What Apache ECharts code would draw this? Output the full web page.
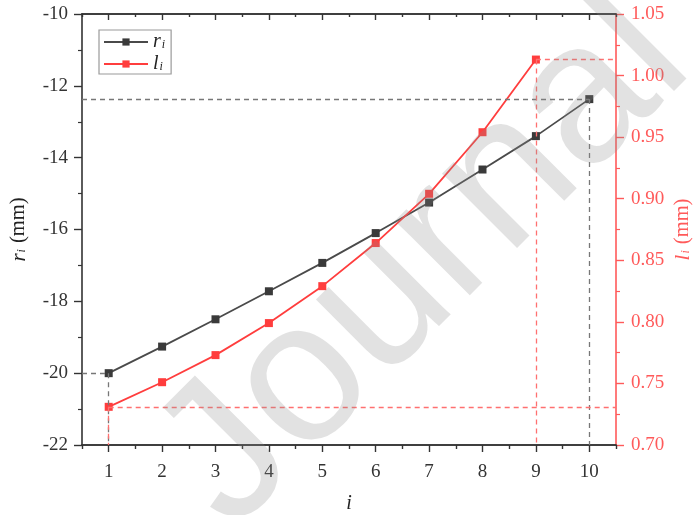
<!DOCTYPE html>
<html><head><meta charset="utf-8">
<script src="https://cdn.jsdelivr.net/npm/echarts@6/dist/echarts.min.js"></script>
<style>html,body{margin:0;padding:0;background:#fff}#c{width:694px;height:515px}</style>
</head><body><div id="c"></div>
<script>
// ---- data ----
const iVals = [1, 2, 3, 4, 5, 6, 7, 8, 9, 10];
const rVals = [-20.00, -19.26, -18.50, -17.72, -16.93, -16.10, -15.25, -14.33, -13.40, -12.37];
const lIdx  = [1, 2, 3, 4, 5, 6, 7, 8, 9];
const lVals = [0.731, 0.751, 0.773, 0.799, 0.829, 0.864, 0.904, 0.954, 1.013];
const xMajorTicks = [1, 2, 3, 4, 5, 6, 7, 8, 9, 10];
const xMinorTicks = [0.5, 1.5, 2.5, 3.5, 4.5, 5.5, 6.5, 7.5, 8.5, 9.5, 10.5];
const xRange = [0.5, 10.5];
const rRange = [-22, -10, 2];
const lRange = [0.70, 1.05, 0.05];

const SERIF = '"Liberation Serif", "Times New Roman", serif';
const BLK = '#3a3a3a';
const RED = '#ff3d3d';
const REDAX = '#ff5a5a';

const richName = (color, lh, big) => ({
  it: {fontFamily: SERIF, fontStyle: 'italic', fontSize: big ? 21 : 20, color: color, lineHeight: lh},
  sub: {fontFamily: SERIF, fontStyle: 'italic', fontSize: 12, color: color, verticalAlign: 'bottom', lineHeight: lh, padding: [0, 1, 0, 1]},
  n: {fontFamily: SERIF, fontSize: big ? 20.5 : 19, color: color, lineHeight: lh}
});

const chart = echarts.init(document.getElementById('c'), null, {renderer: 'canvas'});

const baseX = (pos, major, inside, len, showLabel, color) => ({
  type: 'value', position: pos, min: xRange[0], max: xRange[1],
  axisLine: {show: true, onZero: false, lineStyle: {color: color, width: 1.6}},
  axisTick: {show: true, inside: inside, length: len, customValues: major ? xMajorTicks : xMinorTicks,
             lineStyle: {color: color, width: 1.4}},
  axisLabel: {show: showLabel, customValues: xMajorTicks, margin: 18, fontFamily: SERIF, fontSize: 19, color: '#333'},
  splitLine: {show: false}
});

const xAxes = [
  Object.assign(baseX('bottom', true, false, 7, true, '#333'), {
    name: '{it|i}', nameLocation: 'middle', nameGap: 50,
    nameTextStyle: {rich: richName('#222', 18, false)}
  }),
  baseX('bottom', false, false, 4, false, '#333'),
  baseX('top', true, true, 6, false, '#333'),
  baseX('top', false, true, 3, false, '#333')
];

const option = {
  animation: false,
  backgroundColor: '#fff',
  grid: {left: 82, right: 78, top: 14, bottom: 70, containLabel: false, outerBoundsMode: 'none'},
  xAxis: xAxes,
  yAxis: [
    {
      type: 'value', position: 'left', min: rRange[0], max: rRange[1], interval: rRange[2],
      name: '{it|r}{sub|i}{n| (mm)}', nameLocation: 'middle', nameGap: 54, nameRotate: 90,
      nameMoveOverlap: false,
      nameTextStyle: {rich: richName('#222', 18, true)},
      axisLine: {show: true, lineStyle: {color: '#333', width: 1.6}},
      axisTick: {show: true, inside: false, length: 8, lineStyle: {color: '#333', width: 1.4}},
      minorTick: {show: true, splitNumber: 2, length: 4, lineStyle: {color: '#333', width: 1.2}},
      axisLabel: {margin: 14, fontFamily: SERIF, fontSize: 19, color: '#333'},
      splitLine: {show: false}
    },
    {
      type: 'value', position: 'right', min: lRange[0], max: lRange[1], interval: lRange[2],
      name: '{it|l}{sub|i}{n| (mm)}', nameLocation: 'middle', nameGap: 58, nameRotate: 90,
      nameMoveOverlap: false,
      nameTextStyle: {rich: richName(REDAX, 18, true)},
      axisLine: {show: true, lineStyle: {color: REDAX, width: 1.6}},
      axisTick: {show: true, inside: false, length: 8, lineStyle: {color: REDAX, width: 1.4}},
      minorTick: {show: true, splitNumber: 2, length: 4, lineStyle: {color: REDAX, width: 1.2}},
      axisLabel: {margin: 15, fontFamily: SERIF, fontSize: 19, color: REDAX, formatter: v => v.toFixed(2)},
      splitLine: {show: false}
    }
  ],
  legend: {
    left: 99, top: 30, orient: 'vertical',
    itemWidth: 44, itemHeight: 9, itemGap: 2,
    padding: [2, 5, 0, 4],
    borderColor: '#9a9a9a', borderWidth: 1.2, borderRadius: 0,
    backgroundColor: '#fff',
    data: [{name: 'r', itemStyle: {color: BLK}}, {name: 'l', itemStyle: {color: RED}}],
    formatter: name => `{it|${name}}{sub|i}`,
    textStyle: {rich: richName('#222', 17, false)}
  },
  series: [
    {
      name: 'r', type: 'line', xAxisIndex: 0, yAxisIndex: 0,
      data: iVals.map((x, k) => [x, rVals[k]]),
      symbol: 'rect', symbolSize: 8,
      lineStyle: {color: '#4a4a4a', width: 1.8},
      itemStyle: {color: BLK},
      z: 3,
      markLine: {
        silent: true, symbol: ['none', 'none'], label: {show: false},
        lineStyle: {color: '#777', type: [5, 4], width: 1.3},
        data: [
          [{coord: [xRange[0], rVals[9]]}, {coord: [iVals[9], rVals[9]]}],
          [{coord: [iVals[9], rVals[9]]}, {coord: [iVals[9], rRange[0]]}],
          [{coord: [xRange[0], rVals[0]]}, {coord: [iVals[0], rVals[0]]}],
          [{coord: [iVals[0], rVals[0]]}, {coord: [iVals[0], rRange[0]]}]
        ]
      }
    },
    {
      name: 'l', type: 'line', xAxisIndex: 0, yAxisIndex: 1,
      data: lIdx.map((x, k) => [x, lVals[k]]),
      symbol: 'rect', symbolSize: 8,
      lineStyle: {color: RED, width: 1.8},
      itemStyle: {color: RED},
      z: 4,
      markLine: {
        silent: true, symbol: ['none', 'none'], label: {show: false},
        lineStyle: {color: '#ff7070', type: [5, 4], width: 1.3},
        data: [
          [{coord: [lIdx[0], lVals[0]]}, {coord: [xRange[1], lVals[0]]}],
          [{coord: [lIdx[0], lVals[0]]}, {coord: [lIdx[0], lRange[0]]}],
          [{coord: [lIdx[8], lVals[8]]}, {coord: [xRange[1], lVals[8]]}],
          [{coord: [lIdx[8], lVals[8]]}, {coord: [lIdx[8], lRange[0]]}]
        ]
      }
    }
  ],
  graphic: [
    {
      type: 'text', z: 100, silent: true,
      x: 425, y: 262, rotation: Math.PI / 4,
      style: {
        text: 'Journal', fontFamily: '"Liberation Sans", Arial, sans-serif', fontSize: 200,
        fill: 'rgba(140,140,140,0.25)', align: 'center', verticalAlign: 'middle'
      }
    }
  ]
};
chart.setOption(option);
</script>
</body></html>
